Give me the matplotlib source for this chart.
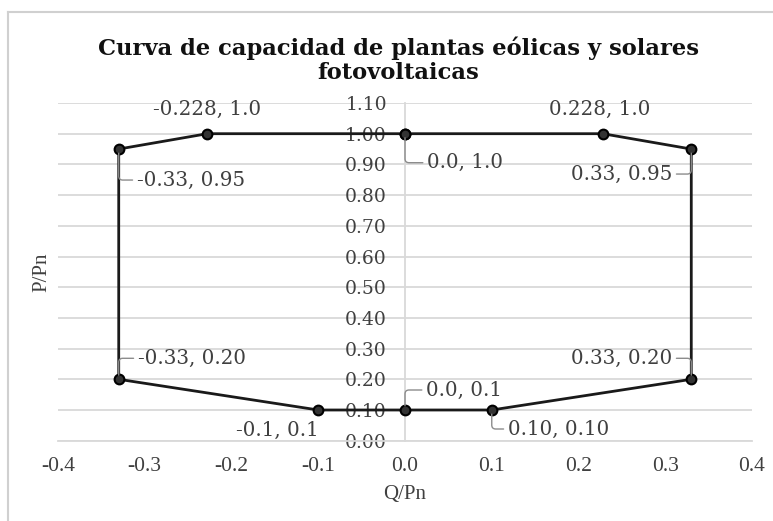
import matplotlib
matplotlib.use("Agg")
import matplotlib.pyplot as plt
from matplotlib.lines import Line2D

# Data
q_vals = [0.0, 0.228, 0.33, 0.33, 0.10, 0.0, -0.1, -0.33, -0.33, -0.228, 0.0]
p_vals = [1.0, 1.0, 0.95, 0.20, 0.10, 0.1, 0.1, 0.20, 0.95, 1.0, 1.0]
point_labels = ["0.0, 1.0", "0.228, 1.0", "0.33, 0.95", "0.33, 0.20", "0.10, 0.10",
                "0.0, 0.1", "-0.1, 0.1", "-0.33, 0.20", "-0.33, 0.95", "-0.228, 1.0"]
x_ticks = [-0.4, -0.3, -0.2, -0.1, 0.0, 0.1, 0.2, 0.3, 0.4]
y_ticks = [0.0, 0.1, 0.2, 0.3, 0.4, 0.5, 0.6, 0.7, 0.8, 0.9, 1.0, 1.1]
title = "Curva de capacidad de plantas eólicas y solares\nfotovoltaicas"

# label placement: (dx px, dy px, ha, leader)
label_style = [
    (22, -29, "left", True),
    (-3, 24, "center", False),
    (-19, -25, "right", True),
    (-19, 21, "right", True),
    (16, -19, "left", True),
    (21, 20, "left", True),
    (0, -20, "right", False),
    (19, 21, "left", True),
    (18, -31, "left", True),
    (0, 24, "center", False),
]

W, H = 773, 521
fig = plt.figure(figsize=(W / 100, H / 100), dpi=100)
ax = fig.add_axes([58 / W, (H - 440.7) / H, (752 - 58) / W, (440.7 - 103) / H])

grid_c = "#d9d9d9"
for s in ["top", "right"]:
    ax.spines[s].set_visible(False)
ax.spines["left"].set_position(("data", 0))
ax.spines["left"].set_color(grid_c)
ax.spines["left"].set_linewidth(1.3)
ax.spines["bottom"].set_color(grid_c)
ax.spines["bottom"].set_linewidth(1.3)

ax.set_xlim(-0.4, 0.4)
ax.set_ylim(0, 1.1)
ax.set_yticks(y_ticks)
ax.set_yticklabels([f"{v:.2f}" for v in y_ticks], family="DejaVu Serif", fontsize=13.5, color="#404040")
ax.set_xticks(x_ticks)
ax.set_xticklabels([f"{v:.1f}" for v in x_ticks], family="Liberation Serif", fontsize=15.5, color="#404040")
ax.tick_params(axis="y", length=0, pad=13)
ax.tick_params(axis="x", length=0, pad=12)
ax.grid(axis="y", color=grid_c, linewidth=1.3)
ax.set_axisbelow(True)

ax.plot(q_vals, p_vals, color="#1a1a1a", linewidth=2.0, marker="o", markersize=7,
        markerfacecolor="#333333", markeredgecolor="#000000", markeredgewidth=1.5,
        zorder=5, clip_on=False)

for (qx, py, lab, st) in zip(q_vals[:-1], p_vals[:-1], point_labels, label_style):
    dx, dy, ha, leader = st
    kw = {}
    if leader:
        relx = 0.0 if ha == "left" else 1.0
        kw["arrowprops"] = dict(arrowstyle="-", color="#8c8c8c", linewidth=1.0,
                                connectionstyle="angle,angleA=0,angleB=90,rad=4",
                                relpos=(relx, 0.5), shrinkA=1, shrinkB=3)
    ax.annotate(lab, xy=(qx, py), xytext=(dx, dy), textcoords="offset pixels",
                ha=ha, va="center", fontsize=14.3, family="DejaVu Serif", color="#404040",
                zorder=6, **kw)

ax.set_xlabel("Q/Pn", family="Liberation Serif", fontsize=15, color="#404040", labelpad=6)
ax.text(-16 / 694, 0.5, "P/Pn", transform=ax.transAxes, rotation=90, ha="center", va="center",
        family="Liberation Serif", fontsize=15, color="#404040")
fig.text(398 / W, (H - 60) / H, title, ha="center", va="center", family="DejaVu Serif",
         fontweight="bold", fontsize=16.3, color="#111111", linespacing=1.12)

# chart border
fig.add_artist(Line2D([8 / W, 8 / W], [0, (H - 12) / H], color="#d0d0d0", linewidth=1.5))
fig.add_artist(Line2D([8 / W, 1], [(H - 12) / H, (H - 12) / H], color="#d0d0d0", linewidth=1.5))

fig.savefig("out.png", dpi=100)
